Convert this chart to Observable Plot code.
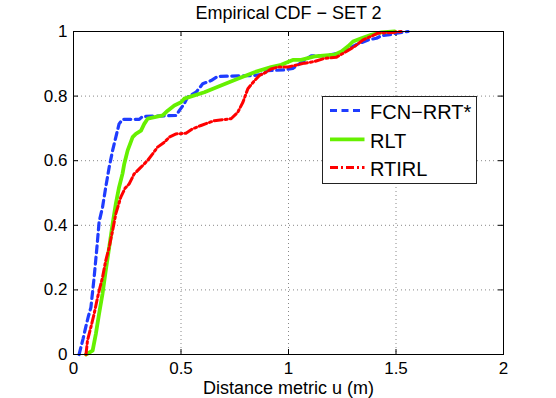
<!DOCTYPE html>
<html><head><meta charset="utf-8">
<script src="https://cdn.jsdelivr.net/npm/d3@7"></script>
<script src="https://cdn.jsdelivr.net/npm/@observablehq/plot@0.6"></script>
<style>
body{margin:0;background:#fff;}
#wrap{position:relative;width:556px;height:398px;font-family:"Liberation Sans",Arial,Helvetica,sans-serif;}
#wrap svg.legend{position:absolute;left:0;top:0;pointer-events:none;}
</style></head><body><div id="wrap"></div>
<script>
const title = "Empirical CDF − SET 2";
const xLabel = "Distance metric u (m)";
const xTicks = [0, 0.5, 1, 1.5, 2];
const yTicks = [0, 0.2, 0.4, 0.6, 0.8, 1];
const seriesNames = ["FCN−RRT*", "RLT", "RTIRL"];
const seriesColors = ["#1f3cff", "#66f000", "#ff0000"];

const fcnX = [0.026,0.045,0.057,0.07,0.081,0.096,0.109,0.119,0.135,0.150,0.166,0.182,0.197,0.212,0.228,0.306,0.321,0.477,0.492,0.515,0.531,0.570,0.601,0.640,0.671,0.842,0.873,0.904,0.981,1.02,1.051,1.067,1.106,1.168,1.238,1.269,1.315,1.370,1.409,1.432,1.471,1.502,1.556];
const fcnY = [0.0,0.05,0.085,0.12,0.146,0.239,0.332,0.41,0.456,0.518,0.580,0.632,0.673,0.714,0.728,0.728,0.737,0.740,0.755,0.776,0.797,0.812,0.838,0.848,0.861,0.864,0.867,0.879,0.881,0.886,0.900,0.907,0.925,0.925,0.933,0.943,0.959,0.974,0.979,0.987,0.990,0.995,1.0];

const rltX = [0.058,0.089,0.104,0.119,0.135,0.150,0.166,0.182,0.197,0.212,0.228,0.236,0.252,0.275,0.290,0.314,0.329,0.345,0.415,0.438,0.469,0.500,0.515,0.609,0.686,0.764,0.842,0.919,0.966,1.02,1.059,1.121,1.214,1.246,1.277,1.30,1.339,1.385,1.432,1.494];
const rltY = [0.0,0.012,0.064,0.126,0.188,0.26,0.332,0.405,0.467,0.518,0.56,0.59,0.632,0.673,0.683,0.693,0.714,0.730,0.740,0.755,0.771,0.781,0.792,0.812,0.833,0.854,0.874,0.890,0.897,0.912,0.912,0.923,0.928,0.938,0.954,0.969,0.979,0.990,0.997,1.0];

const rtirlX = [0.058,0.065,0.081,0.096,0.112,0.135,0.150,0.166,0.182,0.197,0.220,0.240,0.259,0.282,0.314,0.345,0.368,0.391,0.422,0.446,0.477,0.523,0.555,0.593,0.655,0.733,0.764,0.788,0.811,0.842,0.865,0.896,0.919,0.951,0.997,1.075,1.121,1.168,1.222,1.269,1.308,1.347,1.385,1.416,1.486,1.525];
const rtirlY = [0.0,0.043,0.085,0.126,0.177,0.239,0.291,0.332,0.384,0.436,0.487,0.515,0.528,0.559,0.580,0.601,0.621,0.642,0.657,0.673,0.683,0.685,0.699,0.709,0.724,0.730,0.750,0.781,0.823,0.848,0.864,0.874,0.884,0.890,0.890,0.902,0.907,0.917,0.920,0.938,0.954,0.974,0.985,0.995,0.997,1.0];

const seriesXs = [fcnX, rltX, rtirlX];
const seriesYs = [fcnY, rltY, rtirlY];
const seriesStyles = [
  {strokeWidth: 3.2, strokeDasharray: "7,4.5"},
  {strokeWidth: 3.8, strokeDasharray: null},
  {strokeWidth: 3.0, strokeDasharray: "8,3,2,3"}
];

const W = 556, H = 398, mt = 31, mr = 53, mb = 44, ml = 73;
const iw = W - ml - mr, ih = H - mt - mb;
const fontFamily = '"Liberation Sans", Arial, Helvetica, sans-serif';

const lineMarks = seriesNames.map((name, i) => {
  const rows = seriesXs[i].map((x, j) => ({series: name, x, y: seriesYs[i][j]}));
  return Plot.line(rows, {x: "x", y: "y", stroke: seriesColors[i], strokeWidth: seriesStyles[i].strokeWidth,
    strokeDasharray: seriesStyles[i].strokeDasharray, strokeLinejoin: "round"});
});

const chart = Plot.plot({
  width: W, height: H, marginTop: mt, marginRight: mr, marginBottom: mb, marginLeft: ml,
  style: {fontFamily, fontSize: "17px", background: "white", color: "black", overflow: "visible"},
  x: {domain: [0, 2]},
  y: {domain: [0, 1]},
  marks: [
    Plot.ruleX(xTicks.slice(1, -1), {stroke: "#888", strokeDasharray: "1,3", strokeWidth: 1}),
    Plot.ruleY(yTicks.slice(1, -1), {stroke: "#888", strokeDasharray: "1,3", strokeWidth: 1}),
    Plot.tickX(xTicks, {x: d => d, insetTop: ih - 5, stroke: "black"}),
    Plot.tickX(xTicks, {x: d => d, insetBottom: ih - 5, stroke: "black"}),
    Plot.tickY(yTicks, {y: d => d, insetRight: iw - 5, stroke: "black"}),
    Plot.tickY(yTicks, {y: d => d, insetLeft: iw - 5, stroke: "black"}),
    Plot.axisX(xTicks, {tickSize: 0, tickPadding: 7, tickFormat: d => String(d), label: null, fontSize: 17}),
    Plot.axisY(yTicks, {tickSize: 0, tickPadding: 6, tickFormat: d => String(d), label: null, fontSize: 17}),
    ...lineMarks,
    Plot.frame({stroke: "black", strokeWidth: 1}),
    Plot.text([title], {frameAnchor: "top", lineAnchor: "bottom", dy: -13, fontSize: 18, text: d => d}),
    Plot.text([xLabel], {frameAnchor: "bottom", lineAnchor: "bottom", dy: 39, fontSize: 18, text: d => d})
  ]
});
const wrap = document.getElementById("wrap");
wrap.appendChild(chart);

// Legend (inside the axes, like the original)
const lg = d3.select(wrap).append("svg").attr("class", "legend").attr("width", W).attr("height", H);
const box = {x: 322.5, y: 96.5, w: 154, h: 87};
lg.append("rect").attr("x", box.x).attr("y", box.y).attr("width", box.w).attr("height", box.h)
  .attr("fill", "white").attr("stroke", "#222").attr("stroke-width", 1);
const rowY = [110.5, 139.3, 167.5];
seriesNames.forEach((name, i) => {
  lg.append("line").attr("x1", 330).attr("x2", 364.5).attr("y1", rowY[i]).attr("y2", rowY[i])
    .attr("stroke", seriesColors[i]).attr("stroke-width", seriesStyles[i].strokeWidth)
    .attr("stroke-dasharray", seriesStyles[i].strokeDasharray);
  lg.append("text").attr("x", 370).attr("y", rowY[i] + 8.5).attr("font-size", 20)
    .attr("font-family", fontFamily).attr("fill", "black").text(name);
});
</script>
</body></html>
